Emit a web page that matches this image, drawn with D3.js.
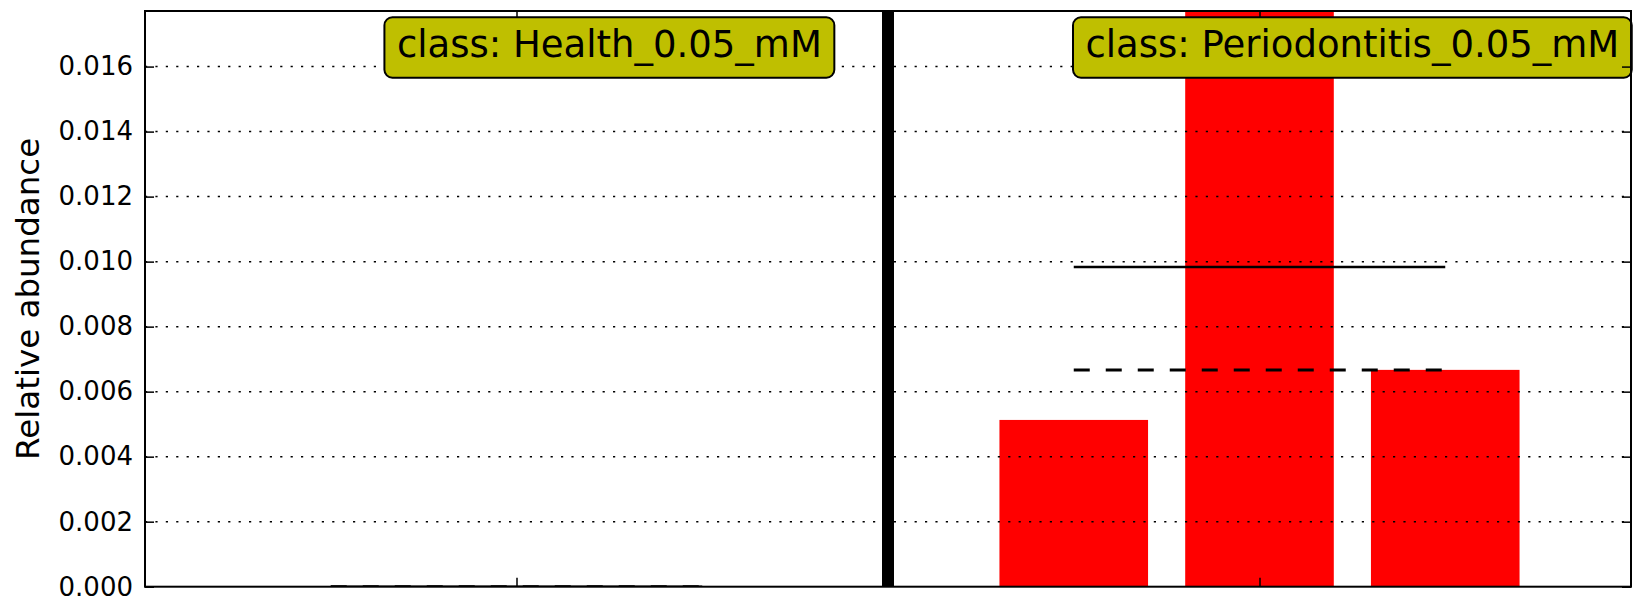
<!DOCTYPE html>
<html>
<head>
<meta charset="utf-8">
<script src="https://cdn.jsdelivr.net/npm/d3@7"></script>
<style>
  html, body { margin: 0; padding: 0; background: #fff; }
  svg { display: block; font-family: 'DejaVu Sans', sans-serif; }
</style>
</head>
<body>
<div id="chart"></div>
<script>
// Data
const CLASS_NAMES = ['Health_0.05_mM', 'Periodontitis_0.05_mM'];
const HEALTH_ABUNDANCE = [0, 0, 0];
const PERIODONTITIS_ABUNDANCE = [0.00513, 0.01771, 0.00667];
const Y_TICKS = [0, 0.002, 0.004, 0.006, 0.008, 0.010, 0.012, 0.014, 0.016];
const Y_LABEL = 'Relative abundance';

// Layout
const WIDTH = 1633, HEIGHT = 600;
const MARGIN = { top: 11, right: 2, bottom: 13.3, left: 145 };
const COLORS = { bar: '#ff0000', box: '#bfbf00', ink: '#000000' };

function renderChart() {
    const plotWidth = WIDTH - MARGIN.left - MARGIN.right;
    const plotHeight = HEIGHT - MARGIN.top - MARGIN.bottom;

    const groups = [
        { name: CLASS_NAMES[0], values: HEALTH_ABUNDANCE },
        { name: CLASS_NAMES[1], values: PERIODONTITIS_ABUNDANCE }
    ];

    // samples sit on integer positions, one empty slot after each class
    let pos = 1;
    groups.forEach(g => {
        g.samples = g.values.map(v => ({ x: pos++, value: v }));
        g.first = g.samples[0].x;
        g.last = g.samples[g.samples.length - 1].x;
        g.sep = pos++;
    });
    const xMax = pos - 1;
    const allValues = groups.flatMap(g => g.values);

    const x = d3.scaleLinear().domain([0, xMax]).range([0, plotWidth]);
    const y = d3.scaleLinear().domain([0, d3.max(allValues)]).range([plotHeight, 0]);

    const svg = d3.select('#chart').append('svg')
        .attr('width', WIDTH)
        .attr('height', HEIGHT);

    svg.append('defs').append('clipPath')
        .attr('id', 'plot-clip')
        .append('rect')
        .attr('width', plotWidth)
        .attr('height', plotHeight);

    const g = svg.append('g')
        .attr('transform', `translate(${MARGIN.left},${MARGIN.top})`);

    const plot = g.append('g').attr('clip-path', 'url(#plot-clip)');

    // Bars
    plot.selectAll('rect.bar')
        .data(groups.flatMap(d => d.samples))
        .enter()
        .append('rect')
        .attr('class', 'bar')
        .attr('x', d => x(d.x - 0.4))
        .attr('width', x(0.8) - x(0))
        .attr('y', d => y(d.value))
        .attr('height', d => plotHeight - y(d.value))
        .attr('fill', COLORS.bar);

    // Mean (solid) and median (dashed) per class
    groups.forEach(grp => {
        const mean = d3.mean(grp.values);
        const median = d3.median(grp.values);
        plot.append('line')
            .attr('x1', x(grp.first)).attr('x2', x(grp.last))
            .attr('y1', y(mean)).attr('y2', y(mean))
            .attr('stroke', COLORS.ink)
            .attr('stroke-width', 2.5);
        plot.append('line')
            .attr('x1', x(grp.first)).attr('x2', x(grp.last))
            .attr('y1', y(median)).attr('y2', y(median))
            .attr('stroke', COLORS.ink)
            .attr('stroke-width', 3)
            .attr('stroke-dasharray', '16,16');
    });

    // Dotted grid
    plot.selectAll('line.grid')
        .data(Y_TICKS)
        .enter()
        .append('line')
        .attr('class', 'grid')
        .attr('x1', 0).attr('x2', plotWidth)
        .attr('y1', d => y(d)).attr('y2', d => y(d))
        .attr('stroke', COLORS.ink)
        .attr('stroke-width', 1.5)
        .attr('stroke-dasharray', '2.2,8.2');

    // Class separators
    plot.selectAll('line.sep')
        .data(groups.slice(0, -1))
        .enter()
        .append('line')
        .attr('class', 'sep')
        .attr('x1', d => x(d.sep)).attr('x2', d => x(d.sep))
        .attr('y1', 0).attr('y2', plotHeight)
        .attr('stroke', COLORS.ink)
        .attr('stroke-width', 12);

    // Class labels in rounded boxes
    groups.forEach(grp => {
        const lab = g.append('g');
        const txt = lab.append('text')
            .attr('x', x((grp.first + grp.last) / 2 + 0.5))
            .attr('y', 46)
            .attr('text-anchor', 'middle')
            .attr('font-size', 37)
            .attr('fill', COLORS.ink)
            .text('class: ' + grp.name);
        const bb = txt.node().getBBox();
        lab.insert('rect', 'text')
            .attr('x', bb.x - 12.5)
            .attr('y', 6.3)
            .attr('width', bb.width + 25)
            .attr('height', 60.4)
            .attr('rx', 8)
            .attr('fill', COLORS.box)
            .attr('stroke', COLORS.ink)
            .attr('stroke-width', 2);
    });

    // Axes (ticks point inward, no domain path)
    const midTicks = groups.map(d => (d.first + d.last) / 2);

    g.append('g')
        .attr('class', 'axis')
        .call(d3.axisLeft(y).tickValues(Y_TICKS).tickFormat(d3.format('.3f'))
            .tickSizeInner(-9).tickSizeOuter(0).tickPadding(12));

    g.append('g')
        .attr('class', 'axis')
        .attr('transform', `translate(${plotWidth},0)`)
        .call(d3.axisRight(y).tickValues(Y_TICKS).tickFormat('')
            .tickSizeInner(-9).tickSizeOuter(0));

    g.append('g')
        .attr('class', 'axis')
        .attr('transform', `translate(0,${plotHeight})`)
        .call(d3.axisBottom(x).tickValues(midTicks).tickFormat('')
            .tickSizeInner(-9).tickSizeOuter(0));

    g.append('g')
        .attr('class', 'axis')
        .call(d3.axisTop(x).tickValues(midTicks).tickFormat('')
            .tickSizeInner(-7).tickSizeOuter(0));

    g.selectAll('.axis .domain').remove();
    g.selectAll('.axis line').attr('stroke', COLORS.ink).attr('stroke-width', 1.5);
    g.selectAll('.axis text')
        .attr('font-size', 26)
        .attr('font-family', "'DejaVu Sans', sans-serif")
        .attr('fill', COLORS.ink);

    // Frame
    g.append('rect')
        .attr('width', plotWidth)
        .attr('height', plotHeight)
        .attr('fill', 'none')
        .attr('stroke', COLORS.ink)
        .attr('stroke-width', 2);

    // Y label
    svg.append('text')
        .attr('transform', `translate(39,${MARGIN.top + plotHeight / 2}) rotate(-90)`)
        .attr('text-anchor', 'middle')
        .attr('font-size', 32.5)
        .attr('fill', COLORS.ink)
        .text(Y_LABEL);
}

renderChart();
</script>
</body>
</html>
